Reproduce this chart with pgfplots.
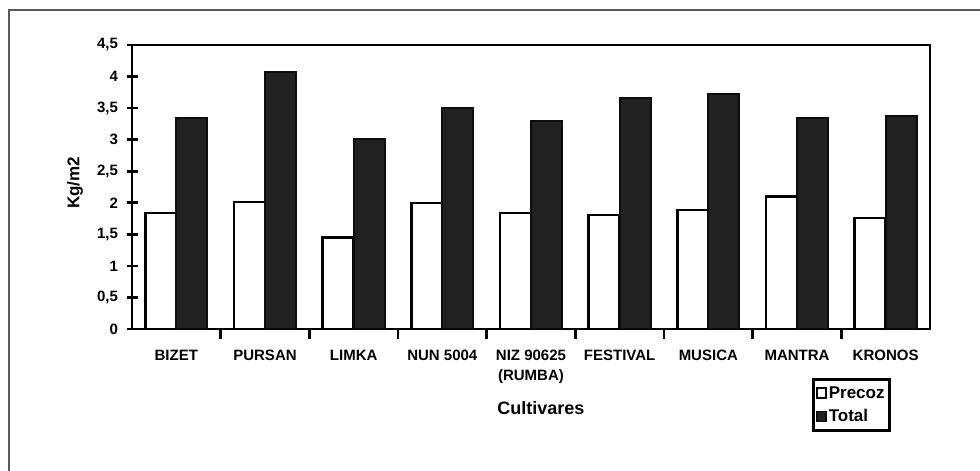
\documentclass[border=0pt]{standalone}
\usepackage{fontspec}
\setmainfont{Liberation Sans}
\usepackage{pgfplots}
\pgfplotsset{compat=1.18}
\begin{document}
\begin{tikzpicture}[x=1pt,y=1pt]
\useasboundingbox (0,0) rectangle (980,471);
\fill[white] (0,0) rectangle (980,471);
\draw[black!65, line width=1.5pt] (9,0) -- (9,461) -- (980,461);
\begin{axis}[
  at={(132pt,142pt)}, anchor=south west,
  scale only axis, width=798pt, height=284pt,
  xmin=-0.5, xmax=8.5, ymin=0, ymax=4.5,
  ytick={0,0.5,...,4.5},
  xtick={0,...,8},
  xticklabels={\strut BIZET,\strut PURSAN,\strut LIMKA,\strut NUN 5004,{\strut NIZ 90625\\\strut (RUMBA)},\strut FESTIVAL,\strut MUSICA,\strut MANTRA,\strut KRONOS},
  minor xtick={0.5,1.5,...,7.5},
  major x tick style={draw=none},
  xtick pos=bottom, ytick pos=left,
  tick align=center,
  major tick length=11pt, minor tick length=10pt,
  tick style={black, line width=2.6pt},
  axis line style={line width=2.8pt},
  /pgf/number format/assume math mode=true,
  /pgf/number format/.cd, use comma, fixed, precision=1,
  /pgfplots/.cd,
  ticklabel style={font=\bfseries\fontsize{15}{20}\selectfont},
  xticklabel style={align=center, anchor=north, inner ysep=0pt, yshift=-6pt},
  yticklabel style={xshift=-5pt},
  ybar=0pt, bar width=0.35,
  xlabel={Cultivares},
  xlabel style={font=\bfseries\fontsize{18}{20}\selectfont, at={(axis description cs:0.5125,-0.278)}, anchor=center},
  ylabel={Kg/m2},
  ylabel style={font=\bfseries\fontsize{17}{20}\selectfont, at={(axis description cs:-0.0714,0.514)}, anchor=center},
  legend style={at={(0.852,-0.1725)}, anchor=north west, draw=black, line width=2.8pt,
    font=\bfseries\fontsize{17}{18}\selectfont, inner xsep=3pt, inner ysep=5pt, row sep=6pt},
  legend cell align=left,
  legend image code/.code={\draw[#1, line width=1.5pt] (0pt,-5pt) rectangle (9pt,5pt);},
]
\addplot[draw=black, fill=white, line width=2.4pt] coordinates {
 (0,1.84) (1,2.01) (2,1.45) (3,2.00) (4,1.84) (5,1.81) (6,1.89) (7,2.10) (8,1.76)};
\addplot[draw=black!95, fill=black!87, line width=2pt] coordinates {
 (0,3.35) (1,4.08) (2,3.01) (3,3.50) (4,3.29) (5,3.66) (6,3.73) (7,3.34) (8,3.38)};
\legend{Precoz,Total}
\end{axis}
\end{tikzpicture}
\end{document}
